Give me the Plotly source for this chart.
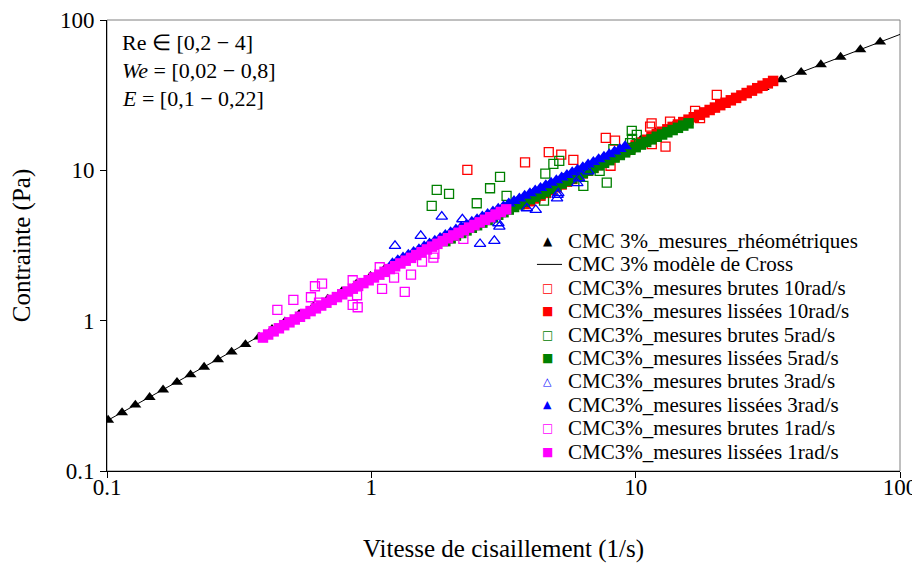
import plotly.graph_objects as go

# ---------------- data ----------------
# Rheometric measurements (black triangles)
rheo_x = [0.101, 0.114, 0.128, 0.145, 0.163, 0.184, 0.207, 0.233, 0.263, 0.296,
          0.334, 0.376, 0.421, 0.471, 0.533, 0.604, 0.684, 0.774, 0.877, 0.993,
          1.124, 1.273, 1.442, 1.633, 1.849, 2.09, 2.39, 2.74, 3.13, 3.57,
          4.08, 4.68, 5.35, 6.11, 6.98, 7.98, 9.12, 10.42, 11.91, 13.93,
          16.29, 19.05, 22.28, 26.06, 30.48, 35.56, 42.27, 50.2, 59.6, 70.8, 84.1]
rheo_y = [0.218, 0.245, 0.275, 0.309, 0.347, 0.390, 0.437, 0.491, 0.551, 0.619,
          0.695, 0.780, 0.876, 0.984, 1.105, 1.240, 1.393, 1.564, 1.756, 1.971,
          2.213, 2.485, 2.790, 3.133, 3.517, 3.95, 4.43, 4.98, 5.59, 6.28,
          7.05, 7.91, 8.88, 9.97, 11.20, 12.57, 14.12, 15.85, 17.80, 19.98,
          22.44, 25.19, 28.29, 31.76, 35.66, 40.05, 44.97, 50.49, 56.68, 63.64, 71.45]

# Cross model (black line)
model_x = [0.1, 0.128, 0.163, 0.207, 0.263, 0.334, 0.421, 0.533, 0.684, 0.877,
           1.124, 1.442, 1.849, 2.39, 3.13, 4.08, 5.35, 6.98, 9.12, 11.91,
           16.29, 22.28, 30.48, 42.27, 59.6, 84.1, 100]
model_y = [0.216, 0.275, 0.347, 0.437, 0.551, 0.695, 0.876, 1.105, 1.393, 1.756,
           2.213, 2.790, 3.517, 4.43, 5.59, 7.05, 8.88, 11.20, 14.12, 17.80,
           22.44, 28.29, 35.66, 44.97, 56.68, 71.45, 80.2]

# 10 rad/s
brut10_x = [2.308, 3.815, 4.691, 5.230, 5.811, 7.707, 8.356, 8.035, 11.34, 11.49,
            11.51, 12.97, 13.49, 16.78, 17.52, 20.27]
brut10_y = [10.06, 11.29, 13.20, 12.72, 11.73, 16.43, 15.76, 10.73, 19.53, 20.51,
            14.92, 14.38, 21.09, 24.85, 22.22, 31.75]
liss10_x = [3.802, 3.981, 4.169, 4.365, 4.571, 4.786, 5.012, 5.248, 5.495, 5.754,
            6.026, 6.310, 6.607, 6.918, 7.244, 7.586, 7.943, 8.318, 8.710, 9.120,
            9.550, 10.00, 10.47, 10.96, 11.48, 12.02, 12.59, 13.18, 13.80, 14.45,
            15.14, 15.85, 16.60, 17.38, 18.20, 19.05, 19.95, 20.89, 21.88, 22.91,
            23.99, 25.12, 26.30, 27.54, 28.84, 30.20, 31.62, 33.11]
liss10_y = [5.969, 6.231, 6.501, 6.785, 7.082, 7.392, 7.716, 8.054, 8.404, 8.770,
            9.155, 9.555, 9.972, 10.41, 10.86, 11.34, 11.83, 12.35, 12.89, 13.46,
            14.04, 14.66, 15.30, 15.97, 16.66, 17.40, 18.06, 18.74, 19.45, 20.18,
            20.94, 21.73, 22.55, 23.40, 24.28, 25.20, 26.15, 27.14, 28.16, 29.23,
            30.33, 31.48, 32.67, 33.90, 35.18, 36.51, 37.89, 39.32]

# 5 rad/s
brut5_x = [1.768, 1.968, 1.692, 2.505, 2.813, 3.068, 3.248, 4.552, 4.883, 5.140,
           4.501, 6.340, 7.308, 7.774, 8.235, 9.665, 10.10, 9.69, 9.524]
brut5_y = [7.407, 6.966, 5.797, 6.041, 7.603, 9.04, 6.757, 9.52, 11.03, 11.55,
           6.287, 7.875, 9.91, 8.285, 13.82, 18.29, 17.20, 16.18, 15.15]
liss5_x = [1.905, 1.995, 2.089, 2.188, 2.291, 2.399, 2.512, 2.630, 2.754, 2.884,
           3.020, 3.162, 3.311, 3.467, 3.631, 3.802, 3.981, 4.169, 4.365, 4.571,
           4.786, 5.012, 5.248, 5.495, 5.754, 6.026, 6.310, 6.607, 6.918, 7.244,
           7.586, 7.943, 8.318, 8.710, 9.120, 9.550, 10.00, 10.47, 10.96, 11.48,
           12.02, 12.59, 13.18, 13.80, 14.45, 15.14, 15.85]
liss5_y = [3.380, 3.527, 3.681, 3.831, 3.986, 4.148, 4.316, 4.492, 4.674, 4.864,
           5.062, 5.267, 5.481, 5.704, 5.935, 6.177, 6.428, 6.689, 6.961, 7.244,
           7.539, 7.846, 8.165, 8.496, 8.841, 9.201, 9.575, 9.963, 10.37, 10.79,
           11.23, 11.68, 12.16, 12.65, 13.17, 13.70, 14.26, 14.84, 15.44, 16.07,
           16.73, 17.31, 17.91, 18.54, 19.18, 19.85, 20.54]

# 3 rad/s
brut3_x = [1.229, 1.538, 1.847, 2.210, 2.578, 2.920, 3.024, 3.050, 3.873, 4.188,
           5.064, 5.099, 5.042, 6.017, 6.107, 6.622]
brut3_y = [3.141, 3.661, 4.920, 4.728, 3.238, 3.391, 4.446, 4.222, 5.595, 5.451,
           6.862, 7.043, 6.501, 8.209, 8.860, 9.833]
liss3_x = [1.202, 1.259, 1.318, 1.380, 1.445, 1.514, 1.585, 1.660, 1.738, 1.820,
           1.905, 1.995, 2.089, 2.188, 2.291, 2.399, 2.512, 2.630, 2.754, 2.884,
           3.020, 3.162, 3.311, 3.467, 3.631, 3.802, 3.981, 4.169, 4.365, 4.571,
           4.786, 5.012, 5.248, 5.495, 5.754, 6.026, 6.310, 6.607, 6.918, 7.244,
           7.586, 7.943, 8.318, 8.710, 9.120]
liss3_y = [2.413, 2.518, 2.630, 2.744, 2.864, 2.990, 3.121, 3.258, 3.401, 3.550,
           3.707, 3.869, 4.036, 4.200, 4.370, 4.548, 4.733, 4.925, 5.126, 5.333,
           5.550, 5.775, 6.010, 6.254, 6.508, 6.773, 7.048, 7.335, 7.632, 7.943,
           8.266, 8.602, 8.951, 9.315, 9.694, 10.09, 10.50, 10.93, 11.37, 11.83,
           12.31, 12.81, 13.33, 13.88, 14.44]

# 1 rad/s
brut1_x = [0.441, 0.507, 0.591, 0.612, 0.651, 0.634, 0.850, 0.883, 0.850, 0.888,
           1.076, 1.098, 1.219, 1.338, 1.413, 1.555, 1.717, 1.732, 2.229]
brut1_y = [1.178, 1.373, 1.431, 1.694, 1.763, 1.318, 1.857, 1.476, 1.272, 1.228,
           2.266, 1.625, 1.932, 1.552, 2.023, 2.470, 2.626, 2.779, 3.497]
liss1_x = [0.389, 0.407, 0.427, 0.447, 0.468, 0.490, 0.513, 0.537, 0.562, 0.589,
           0.617, 0.646, 0.676, 0.708, 0.741, 0.776, 0.813, 0.851, 0.891, 0.933,
           0.977, 1.023, 1.072, 1.122, 1.175, 1.230, 1.288, 1.349, 1.413, 1.479,
           1.549, 1.622, 1.698, 1.778, 1.862, 1.950, 2.042, 2.138, 2.239, 2.344,
           2.455, 2.570, 2.692, 2.818, 2.951, 3.090, 3.236]
liss1_y = [0.772, 0.809, 0.849, 0.890, 0.933, 0.975, 1.018, 1.062, 1.109, 1.158,
           1.208, 1.261, 1.317, 1.375, 1.435, 1.498, 1.564, 1.632, 1.704, 1.778,
           1.857, 1.938, 2.023, 2.112, 2.204, 2.301, 2.402, 2.506, 2.617, 2.732,
           2.852, 2.977, 3.107, 3.243, 3.385, 3.534, 3.689, 3.842, 3.998, 4.160,
           4.329, 4.505, 4.688, 4.879, 5.077, 5.284, 5.499]

tick_vals = [0.1, 1, 10, 100]
tick_text = ["0.1", "1", "10", "100"]

legend_names = ["CMC 3%_mesures_rhéométriques", "CMC 3% modèle de Cross",
                "CMC3%_mesures brutes 10rad/s", "CMC3%_mesures lissées 10rad/s",
                "CMC3%_mesures brutes 5rad/s", "CMC3%_mesures lissées 5rad/s",
                "CMC3%_mesures brutes 3rad/s", "CMC3%_mesures lissées 3rad/s",
                "CMC3%_mesures brutes 1rad/s", "CMC3%_mesures lissées 1rad/s"]

RED, GREEN, BLUE, MAG = "#FF0000", "#008000", "#0000FF", "#FF00FF"
FONT = "Liberation Serif, Times New Roman, serif"

fig = go.Figure()

fig.add_trace(go.Scatter(x=rheo_x, y=rheo_y, mode="markers", name=legend_names[0],
                         showlegend=False,
                         marker=dict(symbol="triangle-up", size=10.5, color="black")))
fig.add_trace(go.Scatter(x=model_x, y=model_y, mode="lines", name=legend_names[1],
                         showlegend=False, line=dict(color="black", width=1)))

def brut(x, y, name, color, symbol="square-open", size=9):
    fig.add_trace(go.Scatter(x=x, y=y, mode="markers", name=name, showlegend=False,
                             marker=dict(symbol=symbol, size=size, color=color,
                                         line=dict(color=color, width=1.3))))

def liss(x, y, name, color, symbol="square", size=10.5):
    fig.add_trace(go.Scatter(x=x, y=y, mode="markers", name=name, showlegend=False,
                             marker=dict(symbol=symbol, size=size, color=color,
                                         line=dict(width=0))))

brut(brut10_x, brut10_y, legend_names[2], RED)
liss(liss10_x, liss10_y, legend_names[3], RED)
brut(brut5_x, brut5_y, legend_names[4], GREEN)
liss(liss5_x, liss5_y, legend_names[5], GREEN)
brut(brut3_x, brut3_y, legend_names[6], BLUE, "triangle-up-open", 10)
liss(liss3_x, liss3_y, legend_names[7], BLUE, "triangle-up", 12)
brut(brut1_x, brut1_y, legend_names[8], MAG)
liss(liss1_x, liss1_y, legend_names[9], MAG)

axis_common = dict(type="log", showgrid=False, zeroline=False, showline=True,
                   linecolor="black", linewidth=1, ticks="outside", ticklen=6,
                   tickcolor="black", tickvals=tick_vals, ticktext=tick_text,
                   tickfont=dict(family=FONT, size=23, color="black"),
                   automargin=False, ticklabeloverflow="allow",
                   minor=dict(showgrid=False, ticks=""))

# ---- hand-made legend (glyph + label per row) ----
glyphs = [("▲", "black", 12), None, ("□", RED, 12), ("■", RED, 12),
          ("□", GREEN, 12), ("■", GREEN, 12), ("△", BLUE, 11), ("▲", BLUE, 11),
          ("□", MAG, 12), ("■", MAG, 12)]
row_y0, row_dy = 0.510, 0.0519
text_x, glyph_x = 0.5790, 0.5561
annotations = []
shapes = [dict(type="rect", xref="paper", yref="paper", x0=0, y0=0, x1=1, y1=1,
               line=dict(color="#808080", width=1), layer="below")]
for i, name in enumerate(legend_names):
    yy = row_y0 - i * row_dy
    annotations.append(dict(x=text_x, y=yy, xref="paper", yref="paper",
                            xanchor="left", yanchor="middle", showarrow=False,
                            text=name, font=dict(family=FONT, size=21, color="black")))
    g = glyphs[i]
    if g is None:
        shapes.append(dict(type="line", xref="paper", yref="paper",
                           x0=0.5422, x1=0.5738, y0=yy, y1=yy,
                           line=dict(color="black", width=1)))
    else:
        annotations.append(dict(x=glyph_x, y=yy, xref="paper", yref="paper",
                                xanchor="center", yanchor="middle", showarrow=False,
                                text=g[0], font=dict(family="DejaVu Sans", size=g[2],
                                                     color=g[1])))

for txt, yy in [("Re ∈ [0,2 − 4]", 0.950), ("<i>We</i> = [0,02 − 0,8]", 0.888),
                ("<i>E</i> = [0,1 − 0,22]", 0.825)]:
    annotations.append(dict(x=0.016, y=yy, xref="paper", yref="paper", xanchor="left",
                            yanchor="middle", showarrow=False, text=txt,
                            font=dict(family=FONT, size=22, color="black")))

# the page body adds an 8 px margin, so the figure is sized so that the page
# does not overflow the 920x571 window, and margins place the plot area as in the reference
fig.update_layout(
    width=912, height=555,
    margin=dict(l=99, r=20, t=12, b=92),
    paper_bgcolor="white", plot_bgcolor="white",
    font=dict(family=FONT, color="black"),
    showlegend=False,
    xaxis=dict(range=[-1, 2], ticklabelstandoff=-11,
               title=dict(text="Vitesse de cisaillement (1/s)",
                          font=dict(family=FONT, size=25), standoff=41),
               **axis_common),
    yaxis=dict(range=[-1, 2], ticklabelstandoff=1,
               title=dict(text="Contrainte (Pa)",
                          font=dict(family=FONT, size=25), standoff=26),
               **axis_common),
    shapes=shapes,
    annotations=annotations,
)

fig.write_html("out.html")
